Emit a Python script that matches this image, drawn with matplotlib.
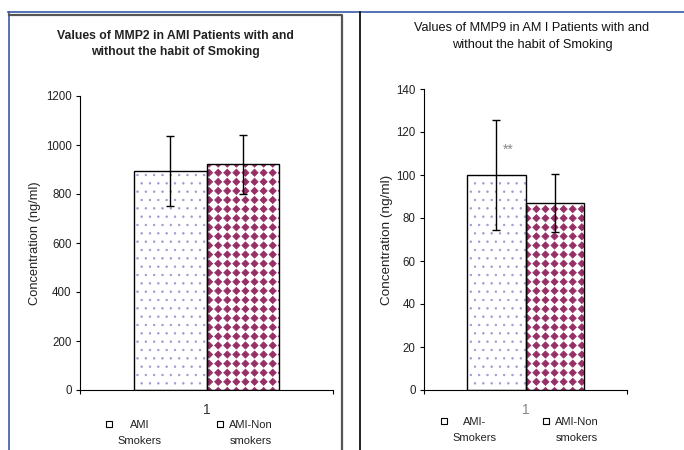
import matplotlib
matplotlib.use("Agg")
import numpy as np
import matplotlib.pyplot as plt
import matplotlib.hatch as mhatch
from matplotlib.path import Path
from matplotlib.lines import Line2D
from matplotlib.legend_handler import HandlerLine2D

groups = ["AMI\nSmokers", "AMI-Non\nsmokers"]
groups_mmp9 = ["AMI-\nSmokers", "AMI-Non\nsmokers"]
category = "1"

mmp2_mean = [894, 922]
mmp2_err = [143, 120]
mmp9_mean = [100, 87]
mmp9_err = [25.5, 13.5]

mmp2_ticks = [0, 200, 400, 600, 800, 1000, 1200]
mmp9_ticks = [0, 20, 40, 60, 80, 100, 120, 140]


# excel-like diamond fill: square grid of filled diamonds, put in place of the '*' hatch
class DiamondGrid(mhatch.HatchPatternBase):
    def __init__(self, hatch, density):
        self.num_rows = hatch.count('*') * 11
        self.shape = Path.unit_regular_polygon(4)
        if self.num_rows == 0:
            self.num_vertices = 0
        else:
            self.num_vertices = (self.num_rows + 1) ** 2 * len(self.shape.vertices)

    def set_vertices_and_codes(self, vertices, codes):
        n = self.num_rows
        verts = self.shape.vertices * 0.40 / n
        k = len(verts)
        i = 0
        for r in range(n + 1):
            for c in range(n + 1):
                vertices[i:i + k] = verts + [c / n, r / n]
                codes[i:i + k] = self.shape.codes
                i += k


mhatch._hatch_types = [t for t in mhatch._hatch_types if t is not mhatch.Stars] + [DiamondGrid]


# legend key sits next to the first line of a two-line label
class TopMarker(HandlerLine2D):
    def create_artists(self, legend, orig_handle, xdescent, ydescent, width, height, fontsize, trans):
        arts = super().create_artists(legend, orig_handle, xdescent, ydescent, width, height, fontsize, trans)
        for a in arts:
            a.set_ydata(np.asarray(a.get_ydata()) + 0.78 * fontsize)
        return arts


plt.rcParams['font.family'] = ['Liberation Sans', 'DejaVu Sans']
plt.rcParams['hatch.linewidth'] = 0.5

hatches = ['..', '*']
hatch_colors = ['#9a9ad0', '#952f66']
width = 0.287

fig = plt.figure(figsize=(6.84, 4.5), dpi=100)


def draw_panel(ax, means, errs, ticks, tick_color, label_size):
    xs = [1 - width / 2, 1 + width / 2]
    for i in range(2):
        ax.bar(xs[i], means[i], width, color='white', edgecolor=hatch_colors[i],
               linewidth=0, hatch=hatches[i])
    ax.bar(xs, means, width, fill=False, edgecolor='black', linewidth=1)
    ax.errorbar(xs, means, yerr=errs, fmt='none', ecolor='black', elinewidth=1, capsize=2.6, capthick=1)
    ax.set_xlim(0.5, 1.5)
    ax.set_ylim(ticks[0], ticks[-1])
    ax.set_yticks(ticks)
    ax.set_xticks([0.5, 1.5], ['', ''])
    ax.set_xticks([1], [category], minor=True)
    ax.tick_params(axis='x', which='major', length=3, direction='out')
    ax.tick_params(axis='x', which='minor', length=0, pad=9, labelcolor=tick_color)
    ax.tick_params(axis='y', length=3, pad=3, labelcolor='#222222')
    ax.tick_params(labelsize=8.3)
    for s in ['top', 'right']:
        ax.spines[s].set_visible(False)
    ax.set_ylabel("Concentration (ng/ml)", fontsize=label_size, va='center', color='#222222')
    handles = [Line2D([], [], marker='s', linestyle='none', markersize=5,
                      markerfacecolor='white', markeredgecolor='black', markeredgewidth=0.8)
               for _ in range(2)]
    return handles


def add_legend(ax, handles, labels, anchor, colspace):
    leg = ax.legend(handles, labels, loc='upper left', bbox_to_anchor=anchor, ncol=2,
                    frameon=False, fontsize=8, handlelength=0.6, handletextpad=0.5,
                    columnspacing=colspace, borderpad=0, borderaxespad=0,
                    handler_map={Line2D: TopMarker()})
    for t in leg.get_texts():
        t.set_multialignment('center')
        t.set_linespacing(1.7)
        t.set_color('#222222')
    return leg


ax1 = fig.add_axes([80 / 684, 1 - 390 / 450, 253 / 684, 294 / 450])
h1 = draw_panel(ax1, mmp2_mean, mmp2_err, mmp2_ticks, '#333333', 9.3)
ax1.yaxis.set_label_coords(-0.176, 0.5)
add_legend(ax1, h1, groups, (0.10, -0.102), 5.0)

ax2 = fig.add_axes([424 / 684, 1 - 390 / 450, 203 / 684, 301 / 450])
h2 = draw_panel(ax2, mmp9_mean, mmp9_err, mmp9_ticks, '#888888', 9.7)
ax2.yaxis.set_label_coords(-0.182, 0.5)
ax2.text(1 - width / 2 + 0.06, mmp9_mean[0] + 11.5, "**", fontsize=10, color='#888888',
         ha='center', va='center')
add_legend(ax2, h2, groups_mmp9, (0.08, -0.09), 4.2)

fig.text(175.5 / 684, 1 - 44 / 450, "Values of MMP2 in AMI Patients with and\nwithout the habit of Smoking",
         ha='center', va='center', fontsize=8.8, fontweight='bold', color='#222222', linespacing=1.55)
fig.text(532 / 684, 1 - 36.5 / 450, "Values of MMP9 in AM I Patients with and\nwithout the habit of Smoking",
         ha='center', va='center', fontsize=9.2, color='#111111', linespacing=1.5)

# page frame lines
fig.add_artist(Line2D([8 / 684, 1], [1 - 12 / 450] * 2, color='#3a5aa8', lw=1.2, transform=fig.transFigure))
fig.add_artist(Line2D([8.5 / 684] * 2, [1 - 12 / 450, 0], color='#3a5aa8', lw=1.2, transform=fig.transFigure))
fig.add_artist(Line2D([9 / 684, 342 / 684, 342 / 684], [1 - 15 / 450, 1 - 15 / 450, 0], color='#555555',
                      lw=1.6, transform=fig.transFigure))
fig.add_artist(Line2D([360 / 684] * 2, [1 - 12 / 450, 0], color='#111111', lw=1.3, transform=fig.transFigure))

fig.savefig("out.png", dpi=100)
